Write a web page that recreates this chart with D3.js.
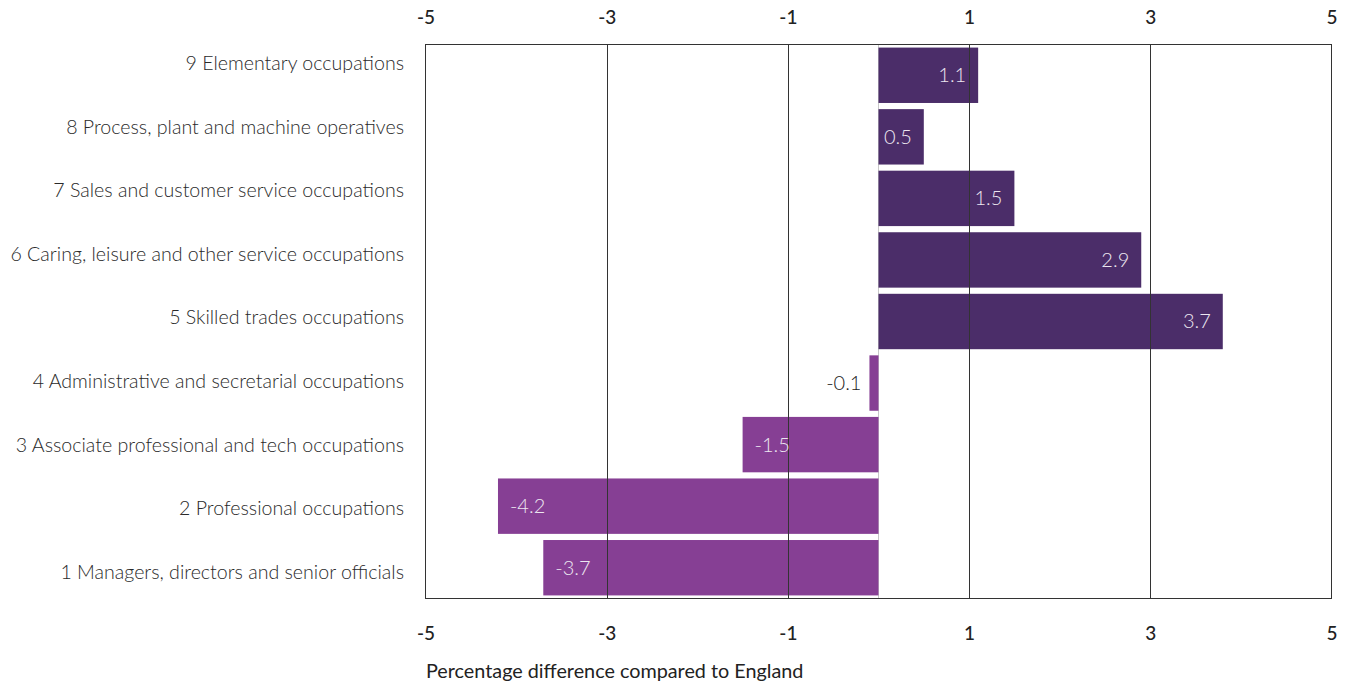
<!DOCTYPE html>
<html><head><meta charset="utf-8">
<script src="https://cdn.jsdelivr.net/npm/d3@7"></script>
<style>body{margin:0;background:#fff;} svg{display:block;}</style>
</head><body>
<svg id="c" width="1352" height="686"></svg>
<script>
const categories = [
  "9 Elementary occupations",
  "8 Process, plant and machine operatives",
  "7 Sales and customer service occupations",
  "6 Caring, leisure and other service occupations",
  "5 Skilled trades occupations",
  "4 Administrative and secretarial occupations",
  "3 Associate professional and tech occupations",
  "2 Professional occupations",
  "1 Managers, directors and senior officials"
];
const values = [1.1, 0.5, 1.5, 2.9, 3.8, -0.1, -1.5, -4.2, -3.7];
const valueLabels = ["1.1", "0.5", "1.5", "2.9", "3.7", "-0.1", "-1.5", "-4.2", "-3.7"];
const tickValues = [-5, -3, -1, 1, 3, 5];
const axisTitle = "Percentage difference compared to England";

const svg = d3.select("#c");
const L = 425.5, R = 1331.5, T = 44.5, B = 598.5;
const font = "Lato, 'Open Sans', sans-serif";
const x = d3.scaleLinear().domain([-5, 5]).range([L, R]);
const y = d3.scaleBand().domain(categories).range([T, B]).paddingInner(0.1).paddingOuter(0.05);
const yLabel = d3.scalePoint().domain(categories).range([65, 574]);

// zero line
svg.append("line").attr("x1", x(0)).attr("x2", x(0)).attr("y1", T).attr("y2", B)
  .attr("stroke", "#c8c8c8").attr("stroke-width", 1);

// bars
svg.selectAll("rect.bar").data(values).enter().append("rect")
  .attr("class", "bar")
  .attr("x", d => x(Math.min(0, d)))
  .attr("width", d => Math.abs(x(d) - x(0)))
  .attr("y", (d, i) => y(categories[i]))
  .attr("height", y.bandwidth())
  .attr("fill", d => d >= 0 ? "#4b2d69" : "#863f94");

// gridlines (drawn on top)
svg.selectAll("line.grid").data(tickValues.slice(1, -1)).enter().append("line")
  .attr("class", "grid")
  .attr("x1", d => Math.round(x(d)) + 0.5).attr("x2", d => Math.round(x(d)) + 0.5)
  .attr("y1", T).attr("y2", B)
  .attr("stroke", "#333").attr("stroke-width", 1);

// frame
svg.append("rect").attr("x", L).attr("y", T).attr("width", R - L).attr("height", B - T)
  .attr("fill", "none").attr("stroke", "#333").attr("stroke-width", 1);

// axes
const fmt = d => String(d);
const axTop = d3.axisTop(x).tickValues(tickValues).tickSize(0).tickPadding(0).tickFormat(fmt);
const axBot = d3.axisBottom(x).tickValues(tickValues).tickSize(0).tickPadding(0).tickFormat(fmt);
const gt = svg.append("g").attr("transform", `translate(0,19)`).call(axTop);
const gb = svg.append("g").attr("transform", `translate(0,635)`).call(axBot);
[gt, gb].forEach(g => {
  g.select(".domain").remove();
  g.selectAll("text").attr("font-family", font).attr("font-size", 19).attr("font-weight", 500)
    .attr("fill", "#222").attr("dy", null).attr("dominant-baseline", "middle").attr("y", 0);
});

// category labels
svg.selectAll("text.cat").data(categories).enter().append("text")
  .attr("class", "cat")
  .attr("x", 404).attr("y", d => yLabel(d))
  .attr("text-anchor", "end").attr("dominant-baseline", "middle")
  .attr("font-family", font).attr("font-size", 19.6).attr("font-weight", 300).attr("fill", "#2a2a2a")
  .text(d => d);

// value labels
svg.selectAll("text.val").data(values).enter().append("text")
  .attr("class", "val")
  .attr("x", d => {
    const w = Math.abs(x(d) - x(0));
    if (w < 40) return x(Math.min(0, d)) - 8;
    return d >= 0 ? x(d) - 12 : x(d) + 12;
  })
  .attr("y", (d, i) => y(categories[i]) + y.bandwidth() / 2 + 2)
  .attr("text-anchor", d => {
    const w = Math.abs(x(d) - x(0));
    if (w < 40) return "end";
    return d >= 0 ? "end" : "start";
  })
  .attr("dominant-baseline", "middle")
  .attr("font-family", font).attr("font-size", 20).attr("font-weight", 300)
  .attr("fill", d => Math.abs(x(d) - x(0)) < 40 ? "#222" : "#ece6f0")
  .text((d, i) => valueLabels[i]);

// axis title
svg.append("text").attr("x", 426).attr("y", 673).attr("dominant-baseline", "middle")
  .attr("font-family", font).attr("font-size", 19.8).attr("font-weight", 400).attr("fill", "#222")
  .text(axisTitle);
</script>
</body></html>
